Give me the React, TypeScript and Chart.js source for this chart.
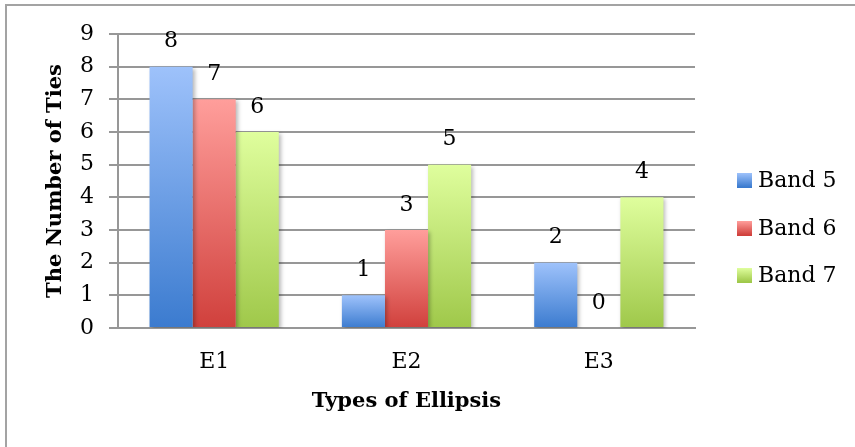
import React, { useEffect, useRef } from 'react';
import { Chart, registerables } from 'chart.js';

Chart.register(...registerables);

const categories = ['E1', 'E2', 'E3'];
const seriesNames = ['Band 5', 'Band 6', 'Band 7'];
const band5 = [8, 1, 2];
const band6 = [7, 3, 0];
const band7 = [6, 5, 4];
const yMin = 0;
const yMax = 9;
const yStep = 1;
const xTitle = 'Types of Ellipsis';
const yTitle = 'The Number of Ties';

const topColors = ['#9ec2fb', '#ff9e9b', '#dffe9d'];
const bottomColors = ['#3b7bcf', '#d0403c', '#9fc84a'];
const FONT = '"DejaVu Serif", serif';
const GRID = '#979797';
const TXT = 22;

function barFill(i: number) {
  return (ctx: any) => {
    const chart = ctx.chart;
    const y = chart.scales && chart.scales.y;
    if (!y || ctx.type !== 'data') return bottomColors[i];
    const top = y.getPixelForValue(ctx.raw);
    const base = y.getPixelForValue(0);
    if (!isFinite(top) || !isFinite(base) || base - top < 1) return bottomColors[i];
    const g = chart.ctx.createLinearGradient(0, top, 0, base);
    g.addColorStop(0, topColors[i]);
    g.addColorStop(1, bottomColors[i]);
    return g;
  };
}

const decor = {
  id: 'decor',
  beforeDatasetsDraw(chart: any) {
    const c = chart.ctx;
    c.save();
    c.shadowColor = 'rgba(0,0,0,0.28)';
    c.shadowBlur = 4;
    c.shadowOffsetX = 2;
    c.shadowOffsetY = 2;
  },
  afterDatasetsDraw(chart: any) {
    const c = chart.ctx;
    c.restore();
    c.save();
    c.font = `${TXT}px ${FONT}`;
    c.fillStyle = '#000';
    c.textAlign = 'center';
    c.textBaseline = 'middle';
    chart.data.datasets.forEach((ds: any, di: number) => {
      const meta = chart.getDatasetMeta(di);
      meta.data.forEach((el: any, i: number) => {
        c.fillText(String(ds.data[i]), el.x, el.y - 25);
      });
    });
    c.restore();
  },
  afterDraw(chart: any) {
    const c = chart.ctx;
    c.save();
    const rowsY = [180, 228, 275];
    chart.data.datasets.forEach((ds: any, di: number) => {
      const cy = rowsY[di];
      const g = c.createLinearGradient(0, cy - 7, 0, cy + 7);
      g.addColorStop(0, topColors[di]);
      g.addColorStop(1, bottomColors[di]);
      c.fillStyle = g;
      c.fillRect(737, cy - 7, 15, 15);
      c.font = `${TXT}px ${FONT}`;
      c.fillStyle = '#000';
      c.textAlign = 'left';
      c.textBaseline = 'middle';
      c.fillText(ds.label, 758, cy + 1);
    });
    c.restore();
  },
};

export default function App() {
  const ref = useRef<HTMLCanvasElement | null>(null);
  useEffect(() => {
    if (!ref.current) return;
    const seriesData = [band5, band6, band7];
    const chart = new Chart(ref.current, {
      type: 'bar',
      data: {
        labels: categories,
        datasets: seriesNames.map((name, i) => ({
          label: name,
          data: seriesData[i],
          backgroundColor: barFill(i),
          borderWidth: 0,
          categoryPercentage: 0.672,
          barPercentage: 1,
        })),
      },
      options: {
        animation: false,
        responsive: true,
        maintainAspectRatio: false,
        devicePixelRatio: 1,
        layout: { padding: { left: 0, top: 34, right: 160, bottom: 0 } },
        plugins: {
          legend: { display: false },
          tooltip: { enabled: false },
        },
        scales: {
          x: {
            grid: { display: false, drawTicks: false },
            border: { display: true, color: GRID, width: 2 },
            ticks: { font: { family: FONT, size: TXT }, color: '#000', padding: 21 },
            title: {
              display: true,
              text: xTitle,
              font: { family: FONT, size: 21, weight: 'bold' },
              color: '#000',
              padding: { top: 0, bottom: 33 },
            },
            afterFit(scale: any) {
              scale.height = 119;
            },
          },
          y: {
            min: yMin,
            max: yMax,
            ticks: {
              stepSize: yStep,
              font: { family: FONT, size: TXT },
              color: '#000',
              padding: 15,
            },
            grid: { color: GRID, lineWidth: 2, tickLength: 9 },
            border: { display: true, color: GRID, width: 2 },
            title: {
              display: true,
              text: yTitle,
              font: { family: FONT, size: 21, weight: 'bold' },
              color: '#000',
              padding: { top: 43, bottom: 0 },
            },
            afterFit(scale: any) {
              scale.width = 118;
            },
          },
        },
      },
      plugins: [decor],
    });
    return () => chart.destroy();
  }, []);

  return (
    <div style={{ position: 'absolute', left: 0, top: 0, width: 855, height: 447, background: '#fff', overflow: 'hidden' }}>
      <div
        style={{
          position: 'absolute',
          left: 5,
          top: 4,
          width: 900,
          height: 500,
          borderLeft: '2px solid #a3a3a3',
          borderTop: '2px solid #a3a3a3',
        }}
      />
      <canvas ref={ref} style={{ position: 'absolute', left: 0, top: 0, width: 855, height: 447 }} />
    </div>
  );
}
